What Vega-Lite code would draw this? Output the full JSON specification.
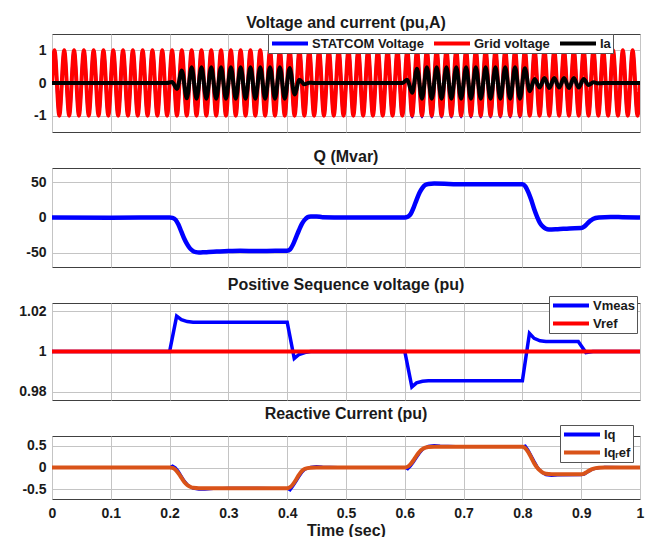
{
"$schema":"https://vega.github.io/schema/vega-lite/v6.json",
"padding":{"left":18,"top":14,"right":0,"bottom":0},
"spacing":36,
"bounds":"flush",
"resolve":{"scale":{"color":"independent","y":"independent"},"legend":{"color":"independent"}},
"datasets":{
"v":[
{"t":0,"g":0,"b":0,"i":0},
{"t":0.0042,"g":1,"b":1,"i":0},{"t":0.0125,"g":-1,"b":-1,"i":0},{"t":0.0208,"g":1,"b":1,"i":0},{"t":0.0292,"g":-1,"b":-1,"i":0},{"t":0.0375,"g":1,"b":1,"i":0},{"t":0.0458,"g":-1,"b":-1,"i":0},{"t":0.0542,"g":1,"b":1,"i":0},{"t":0.0625,"g":-1,"b":-1,"i":0},{"t":0.0708,"g":1,"b":1,"i":0},{"t":0.0792,"g":-1,"b":-1,"i":0},{"t":0.0875,"g":1,"b":1,"i":0},{"t":0.0958,"g":-1,"b":-1,"i":0},
{"t":0.1042,"g":1,"b":1,"i":0},{"t":0.1125,"g":-1,"b":-1,"i":0},{"t":0.1208,"g":1,"b":1,"i":0},{"t":0.1292,"g":-1,"b":-1,"i":0},{"t":0.1375,"g":1,"b":1,"i":0},{"t":0.1458,"g":-1,"b":-1,"i":0},{"t":0.1542,"g":1,"b":1,"i":0},{"t":0.1625,"g":-1,"b":-1,"i":0},{"t":0.1708,"g":1,"b":1,"i":0},{"t":0.1792,"g":-1,"b":-1,"i":0},{"t":0.1875,"g":1,"b":1,"i":0},{"t":0.1958,"g":-1,"b":-1,"i":0},
{"t":0.2042,"g":1,"b":1,"i":0.03},{"t":0.2125,"g":-1,"b":-1,"i":-0.18},{"t":0.2208,"g":1,"b":1,"i":0.38},{"t":0.2292,"g":-1,"b":-1,"i":-0.47},{"t":0.2375,"g":1,"b":1,"i":0.48},{"t":0.2458,"g":-1,"b":-1,"i":-0.48},{"t":0.2542,"g":1,"b":1,"i":0.48},{"t":0.2625,"g":-1,"b":-1,"i":-0.48},{"t":0.2708,"g":1,"b":1,"i":0.48},{"t":0.2792,"g":-1,"b":-1,"i":-0.48},{"t":0.2875,"g":1,"b":1,"i":0.48},{"t":0.2958,"g":-1,"b":-1,"i":-0.48},
{"t":0.3042,"g":1,"b":1,"i":0.48},{"t":0.3125,"g":-1,"b":-1,"i":-0.48},{"t":0.3208,"g":1,"b":1,"i":0.48},{"t":0.3292,"g":-1,"b":-1,"i":-0.48},{"t":0.3375,"g":1,"b":1,"i":0.48},{"t":0.3458,"g":-1,"b":-1,"i":-0.48},{"t":0.3542,"g":1,"b":1,"i":0.48},{"t":0.3625,"g":-1,"b":-1,"i":-0.48},{"t":0.3708,"g":1,"b":1,"i":0.48},{"t":0.3792,"g":-1,"b":-1,"i":-0.48},{"t":0.3875,"g":1,"b":1,"i":0.48},{"t":0.3958,"g":-1,"b":-1,"i":-0.48},
{"t":0.4042,"g":1,"b":1,"i":0.46},{"t":0.4125,"g":-1,"b":-1,"i":-0.35},{"t":0.4208,"g":1,"b":1,"i":0.1},{"t":0.4292,"g":-1,"b":-1,"i":-0.04},{"t":0.4375,"g":1,"b":1,"i":0.01},{"t":0.4458,"g":-1,"b":-1,"i":0},{"t":0.4542,"g":1,"b":1,"i":0},{"t":0.4625,"g":-1,"b":-1,"i":0},{"t":0.4708,"g":1,"b":1,"i":0},{"t":0.4792,"g":-1,"b":-1,"i":0},{"t":0.4875,"g":1,"b":1,"i":0},{"t":0.4958,"g":-1,"b":-1,"i":0},
{"t":0.5042,"g":1,"b":1,"i":0},{"t":0.5125,"g":-1,"b":-1,"i":0},{"t":0.5208,"g":1,"b":1,"i":0},{"t":0.5292,"g":-1,"b":-1,"i":0},{"t":0.5375,"g":1,"b":1,"i":0},{"t":0.5458,"g":-1,"b":-1,"i":0},{"t":0.5542,"g":1,"b":1,"i":0},{"t":0.5625,"g":-1,"b":-1,"i":0},{"t":0.5708,"g":1,"b":1,"i":0},{"t":0.5792,"g":-1,"b":-1,"i":0},{"t":0.5875,"g":1,"b":1,"i":0},{"t":0.5958,"g":-1,"b":-1,"i":0},
{"t":0.6042,"g":1,"b":1,"i":0.1},{"t":0.6125,"g":-1,"b":-1.04,"i":-0.3},{"t":0.6208,"g":1,"b":1,"i":0.44},{"t":0.6292,"g":-1,"b":-1.04,"i":-0.48},{"t":0.6375,"g":1,"b":1,"i":0.48},{"t":0.6458,"g":-1,"b":-1.04,"i":-0.48},{"t":0.6542,"g":1,"b":1,"i":0.48},{"t":0.6625,"g":-1,"b":-1.04,"i":-0.48},{"t":0.6708,"g":1,"b":1,"i":0.48},{"t":0.6792,"g":-1,"b":-1.04,"i":-0.48},{"t":0.6875,"g":1,"b":1,"i":0.48},{"t":0.6958,"g":-1,"b":-1.04,"i":-0.48},
{"t":0.7042,"g":1,"b":1,"i":0.48},{"t":0.7125,"g":-1,"b":-1.04,"i":-0.48},{"t":0.7208,"g":1,"b":1,"i":0.48},{"t":0.7292,"g":-1,"b":-1.04,"i":-0.48},{"t":0.7375,"g":1,"b":1,"i":0.48},{"t":0.7458,"g":-1,"b":-1.04,"i":-0.48},{"t":0.7542,"g":1,"b":1,"i":0.48},{"t":0.7625,"g":-1,"b":-1.04,"i":-0.48},{"t":0.7708,"g":1,"b":1,"i":0.48},{"t":0.7792,"g":-1,"b":-1.04,"i":-0.48},{"t":0.7875,"g":1,"b":1,"i":0.48},{"t":0.7958,"g":-1,"b":-1.04,"i":-0.48},
{"t":0.8042,"g":1,"b":1,"i":0.45},{"t":0.8125,"g":-1,"b":-1,"i":-0.25},{"t":0.8208,"g":1,"b":1,"i":0.12},{"t":0.8292,"g":-1,"b":-1,"i":-0.14},{"t":0.8375,"g":1,"b":1,"i":0.15},{"t":0.8458,"g":-1,"b":-1,"i":-0.15},{"t":0.8542,"g":1,"b":1,"i":0.15},{"t":0.8625,"g":-1,"b":-1,"i":-0.14},{"t":0.8708,"g":1,"b":1,"i":0.15},{"t":0.8792,"g":-1,"b":-1,"i":-0.15},{"t":0.8875,"g":1,"b":1,"i":0.15},{"t":0.8958,"g":-1,"b":-1,"i":-0.14},
{"t":0.9042,"g":1,"b":1,"i":0.12},{"t":0.9125,"g":-1,"b":-1,"i":-0.06},{"t":0.9208,"g":1,"b":1,"i":0.02},{"t":0.9292,"g":-1,"b":-1,"i":-0.01},{"t":0.9375,"g":1,"b":1,"i":0},{"t":0.9458,"g":-1,"b":-1,"i":0},{"t":0.9542,"g":1,"b":1,"i":0},{"t":0.9625,"g":-1,"b":-1,"i":0},{"t":0.9708,"g":1,"b":1,"i":0},{"t":0.9792,"g":-1,"b":-1,"i":0},{"t":0.9875,"g":1,"b":1,"i":0},{"t":0.9958,"g":-1,"b":-1,"i":0},
{"t":1,"g":0,"b":0,"i":0}
],
"q":[
{"t":0,"q":0},{"t":0.1,"q":-0.3},{"t":0.2,"q":0},{"t":0.205,"q":-0.5},{"t":0.21,"q":-3},{"t":0.215,"q":-10},{"t":0.22,"q":-20},{"t":0.225,"q":-30},{"t":0.23,"q":-38},{"t":0.235,"q":-44},{"t":0.24,"q":-47.5},{"t":0.245,"q":-49},{"t":0.25,"q":-49.5},{"t":0.26,"q":-49},{"t":0.28,"q":-48},{"t":0.3,"q":-47.5},{"t":0.32,"q":-47},{"t":0.35,"q":-47.5},{"t":0.38,"q":-47},{"t":0.4,"q":-47},{"t":0.405,"q":-45},{"t":0.41,"q":-38},{"t":0.415,"q":-28},{"t":0.42,"q":-18},{"t":0.425,"q":-9},{"t":0.43,"q":-3},{"t":0.435,"q":0.5},{"t":0.44,"q":1.5},{"t":0.45,"q":1.5},{"t":0.46,"q":0.5},{"t":0.5,"q":0},{"t":0.6,"q":0},{"t":0.605,"q":1},{"t":0.61,"q":5},{"t":0.615,"q":14},{"t":0.62,"q":25},{"t":0.625,"q":35},{"t":0.63,"q":42},{"t":0.635,"q":46},{"t":0.64,"q":47.5},{"t":0.65,"q":48},{"t":0.7,"q":47},{"t":0.75,"q":47},{"t":0.8,"q":47},{"t":0.805,"q":44},{"t":0.81,"q":36},{"t":0.815,"q":25},{"t":0.82,"q":12},{"t":0.825,"q":1},{"t":0.83,"q":-8},{"t":0.835,"q":-13},{"t":0.84,"q":-16},{"t":0.845,"q":-17},{"t":0.86,"q":-16.5},{"t":0.88,"q":-15.5},{"t":0.9,"q":-15},{"t":0.905,"q":-13},{"t":0.91,"q":-9},{"t":0.915,"q":-5},{"t":0.92,"q":-2},{"t":0.93,"q":0},{"t":0.95,"q":0.8},{"t":0.97,"q":0.5},{"t":1,"q":0}
],
"vm":[
{"t":0,"v":1},{"t":0.2,"v":1},{"t":0.212,"v":1.0175},{"t":0.22,"v":1.0158},{"t":0.23,"v":1.0148},{"t":0.24,"v":1.0145},{"t":0.4,"v":1.0145},{"t":0.412,"v":0.9965},{"t":0.42,"v":0.9985},{"t":0.43,"v":0.9995},{"t":0.44,"v":1},{"t":0.6,"v":1},{"t":0.612,"v":0.9825},{"t":0.62,"v":0.9845},{"t":0.63,"v":0.9853},{"t":0.64,"v":0.9855},{"t":0.8,"v":0.9855},{"t":0.812,"v":1.009},{"t":0.82,"v":1.0065},{"t":0.83,"v":1.0053},{"t":0.84,"v":1.005},{"t":0.895,"v":1.005},{"t":0.908,"v":0.9995},{"t":0.92,"v":1},{"t":1,"v":1}
],
"vr":[{"t":0,"v":1},{"t":1,"v":1}],
"iq":[
{"t":0,"v":0},{"t":0.1,"v":0},{"t":0.2,"v":0},{"t":0.205,"v":0.04},{"t":0.21,"v":0},{"t":0.215,"v":-0.08},{"t":0.22,"v":-0.19},{"t":0.225,"v":-0.3},{"t":0.23,"v":-0.38},{"t":0.235,"v":-0.44},{"t":0.24,"v":-0.48},{"t":0.25,"v":-0.5},{"t":0.26,"v":-0.5},{"t":0.28,"v":-0.48},{"t":0.3,"v":-0.47},{"t":0.35,"v":-0.47},{"t":0.4,"v":-0.48},{"t":0.405,"v":-0.52},{"t":0.41,"v":-0.43},{"t":0.415,"v":-0.33},{"t":0.42,"v":-0.22},{"t":0.425,"v":-0.12},{"t":0.43,"v":-0.05},{"t":0.44,"v":0.01},{"t":0.45,"v":0.03},{"t":0.46,"v":0.02},{"t":0.5,"v":0},{"t":0.6,"v":0},{"t":0.605,"v":-0.04},{"t":0.61,"v":0.03},{"t":0.615,"v":0.12},{"t":0.62,"v":0.22},{"t":0.625,"v":0.32},{"t":0.63,"v":0.4},{"t":0.635,"v":0.45},{"t":0.64,"v":0.49},{"t":0.65,"v":0.51},{"t":0.66,"v":0.5},{"t":0.7,"v":0.48},{"t":0.8,"v":0.48},{"t":0.805,"v":0.5},{"t":0.81,"v":0.4},{"t":0.815,"v":0.28},{"t":0.82,"v":0.15},{"t":0.825,"v":0.03},{"t":0.83,"v":-0.06},{"t":0.835,"v":-0.13},{"t":0.84,"v":-0.17},{"t":0.85,"v":-0.19},{"t":0.86,"v":-0.18},{"t":0.9,"v":-0.17},{"t":0.905,"v":-0.16},{"t":0.91,"v":-0.12},{"t":0.915,"v":-0.08},{"t":0.92,"v":-0.04},{"t":0.93,"v":-0.01},{"t":0.94,"v":0.01},{"t":1,"v":0}
],
"iqr":[
{"t":0,"v":0},{"t":0.2,"v":0},{"t":0.205,"v":-0.01},{"t":0.21,"v":-0.05},{"t":0.215,"v":-0.13},{"t":0.22,"v":-0.23},{"t":0.225,"v":-0.33},{"t":0.23,"v":-0.4},{"t":0.235,"v":-0.44},{"t":0.24,"v":-0.465},{"t":0.25,"v":-0.475},{"t":0.3,"v":-0.475},{"t":0.4,"v":-0.475},{"t":0.405,"v":-0.45},{"t":0.41,"v":-0.38},{"t":0.415,"v":-0.28},{"t":0.42,"v":-0.17},{"t":0.425,"v":-0.08},{"t":0.43,"v":-0.03},{"t":0.44,"v":-0.005},{"t":0.45,"v":0},{"t":0.6,"v":0},{"t":0.605,"v":0.02},{"t":0.61,"v":0.08},{"t":0.615,"v":0.17},{"t":0.62,"v":0.27},{"t":0.625,"v":0.36},{"t":0.63,"v":0.42},{"t":0.635,"v":0.455},{"t":0.64,"v":0.47},{"t":0.65,"v":0.475},{"t":0.8,"v":0.475},{"t":0.805,"v":0.44},{"t":0.81,"v":0.35},{"t":0.815,"v":0.23},{"t":0.82,"v":0.1},{"t":0.825,"v":0},{"t":0.83,"v":-0.07},{"t":0.835,"v":-0.12},{"t":0.84,"v":-0.145},{"t":0.85,"v":-0.155},{"t":0.9,"v":-0.155},{"t":0.905,"v":-0.14},{"t":0.91,"v":-0.1},{"t":0.915,"v":-0.06},{"t":0.92,"v":-0.03},{"t":0.93,"v":-0.005},{"t":0.94,"v":0},{"t":1,"v":0}
]
},
"vconcat":[
{
"width":588,"height":98,
"title":"Voltage and current (pu,A)",
"data":{"name":"v"},
"encoding":{"x":{"field":"t","type":"quantitative","scale":{"domain":[0,1],"nice":false},"axis":{"values":[0,0.1,0.2,0.3,0.4,0.5,0.6,0.7,0.8,0.9,1],"labels":false,"title":null}}},
"layer":[
{"mark":{"type":"line","interpolate":"monotone","strokeWidth":3,"clip":true},
 "encoding":{"y":{"field":"b","type":"quantitative","scale":{"domain":[-1.5,1.5],"nice":false},"axis":{"values":[-1,0,1],"title":null,"labelOverlap":false,"labelExpr":"toString(datum.value)"}},
 "color":{"datum":"STATCOM Voltage","type":"nominal","scale":{"domain":["STATCOM Voltage","Grid voltage","Ia"],"range":["#0000ff","#ff0000","#000000"]},"legend":{"title":null,"orient":"none","direction":"horizontal","legendX":216,"legendY":0}}}},
{"mark":{"type":"line","interpolate":"monotone","strokeWidth":4,"clip":true},
 "encoding":{"y":{"field":"g","type":"quantitative","scale":{"domain":[-1.5,1.5],"nice":false}},"color":{"datum":"Grid voltage","type":"nominal"}}},
{"mark":{"type":"line","interpolate":"monotone","strokeWidth":4,"clip":true},
 "encoding":{"y":{"field":"i","type":"quantitative","scale":{"domain":[-1.5,1.5],"nice":false}},"color":{"datum":"Ia","type":"nominal"}}}
]
},
{
"width":588,"height":99,
"title":"Q (Mvar)",
"data":{"name":"q"},
"mark":{"type":"line","interpolate":"monotone","strokeWidth":4.5,"color":"#0000ff","clip":true},
"encoding":{
"x":{"field":"t","type":"quantitative","scale":{"domain":[0,1],"nice":false},"axis":{"values":[0,0.1,0.2,0.3,0.4,0.5,0.6,0.7,0.8,0.9,1],"labels":false,"title":null}},
"y":{"field":"q","type":"quantitative","scale":{"domain":[-70,70],"nice":false},"axis":{"values":[-50,0,50],"title":null,"labelOverlap":false,"labelExpr":"toString(datum.value)"}}
}
},
{
"width":588,"height":97,
"title":"Positive Sequence voltage (pu)",
"encoding":{"x":{"field":"t","type":"quantitative","scale":{"domain":[0,1],"nice":false},"axis":{"values":[0,0.1,0.2,0.3,0.4,0.5,0.6,0.7,0.8,0.9,1],"labels":false,"title":null}},
 "y":{"field":"v","type":"quantitative","scale":{"domain":[0.976,1.024],"nice":false},"axis":{"values":[0.98,1,1.02],"title":null,"labelOverlap":false,"labelExpr":"toString(datum.value)"}}},
"layer":[
{"data":{"name":"vm"},"mark":{"type":"line","strokeWidth":3.5,"clip":true},
 "encoding":{"color":{"datum":"Vmeas","type":"nominal","scale":{"domain":["Vmeas","Vref"],"range":["#0000ff","#ff0000"]},"legend":{"title":null,"orient":"none","legendX":497,"legendY":-7}}}},
{"data":{"name":"vr"},"mark":{"type":"line","strokeWidth":4,"clip":true},
 "encoding":{"color":{"datum":"Vref","type":"nominal"}}}
]
},
{
"width":588,"height":63,
"title":"Reactive Current (pu)",
"encoding":{"x":{"field":"t","type":"quantitative","scale":{"domain":[0,1],"nice":false},"axis":{"values":[0,0.1,0.2,0.3,0.4,0.5,0.6,0.7,0.8,0.9,1],"format":"~g","title":"Time (sec)","labelPadding":7,"titlePadding":2,"labelFlush":false,"labelOverlap":false}},
 "y":{"field":"v","type":"quantitative","scale":{"domain":[-0.72,0.72],"nice":false},"axis":{"values":[-0.5,0,0.5],"title":null,"labelOverlap":false,"labelBound":false,"labelExpr":"datum.value == 0 ? '0' : toString(datum.value)"}}},
"layer":[
{"data":{"name":"iq"},"mark":{"type":"line","strokeWidth":2.5,"clip":true},
 "encoding":{"color":{"datum":"Iq","type":"nominal","scale":{"domain":["Iq","Iqᵣef"],"range":["#0000ff","#D95319"]},"legend":{"title":null,"orient":"none","legendX":508,"legendY":-11}}}},
{"data":{"name":"iqr"},"mark":{"type":"line","interpolate":"monotone","strokeWidth":4,"clip":true},
 "encoding":{"color":{"datum":"Iqᵣef","type":"nominal"}}}
]
}
],
"config":{
"font":"Liberation Sans",
"view":{"stroke":"#404040","strokeWidth":1},
"axis":{"labelFont":"Liberation Sans","labelFontWeight":"bold","labelFontSize":14,"labelColor":"#1a1a1a","gridColor":"#c4c4c4","gridOpacity":1,"domain":false,"ticks":false,"labelPadding":6,"labelFlush":false,"labelOverlap":false,"titleFont":"Liberation Sans","titleFontWeight":"bold","titleFontSize":16,"titleColor":"#1a1a1a"},
"title":{"font":"Liberation Sans","fontWeight":"bold","fontSize":16,"color":"#1a1a1a","offset":3,"frame":"group","anchor":"middle"},
"legend":{"labelFont":"Liberation Sans","labelFontWeight":"bold","labelFontSize":13,"labelColor":"#1a1a1a","symbolType":"stroke","symbolSize":1296,"symbolStrokeWidth":4,"clipHeight":15,"padding":2,"labelOffset":2,"rowPadding":3,"columnPadding":8,"strokeColor":"#555555","fillColor":"#ffffff","cornerRadius":0}
}
}
